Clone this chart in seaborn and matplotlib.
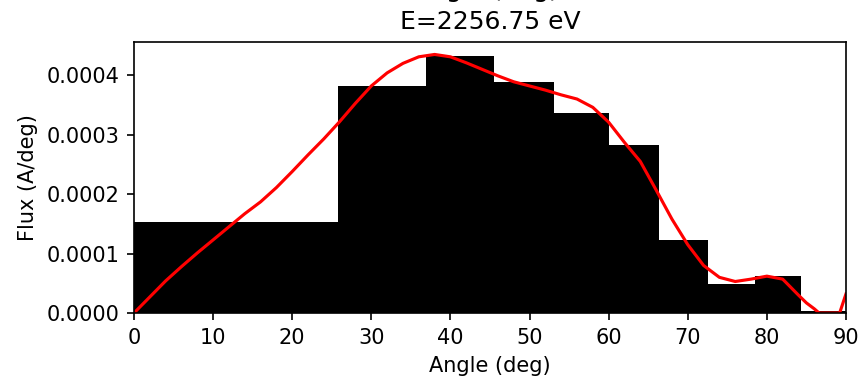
import matplotlib
matplotlib.use("Agg")
import matplotlib.pyplot as plt
import seaborn as sns
import numpy as np

# Bin edges (deg) and binned flux (A/deg)
bin_edges = [0.0, 25.84, 36.87, 45.57, 53.13, 60.00, 66.42, 72.54, 78.46, 84.26, 90.0]
bin_flux = [1.534e-4, 3.815e-4, 4.32e-4, 3.89e-4, 3.37e-4, 2.82e-4, 1.23e-4, 0.48e-4, 0.63e-4, 0.03e-4]

# Smooth fitted curve
curve_angle = [0, 2, 4, 6, 8, 10, 12, 14, 16, 18, 20, 22, 24, 26, 28, 30, 32, 34, 36, 38,
               40, 42, 44, 46, 48, 50, 52, 54, 56, 58, 60, 62, 64, 66, 68, 70, 72, 74, 76,
               78, 80, 82, 84, 85, 86, 86.6, 89.2, 90]
curve_flux = [0.0, 0.27, 0.54, 0.78, 1.01, 1.23, 1.45, 1.67, 1.87, 2.11, 2.38, 2.66, 2.93,
              3.22, 3.53, 3.82, 4.04, 4.20, 4.31, 4.35, 4.31, 4.21, 4.10, 3.99, 3.89, 3.82,
              3.75, 3.67, 3.60, 3.46, 3.21, 2.87, 2.55, 2.07, 1.58, 1.15, 0.80, 0.60, 0.53,
              0.57, 0.62, 0.57, 0.30, 0.17, 0.07, 0.0, 0.0, 0.32]
curve_flux = [v * 1e-4 for v in curve_flux]

title_lines = ["Angle (deg),", "E=2256.75 eV"]

fig = plt.figure(figsize=(865 / 150, 385 / 150), dpi=150)
ax = fig.add_subplot(111)
fig.subplots_adjust(left=0.1549, right=0.978, bottom=0.187, top=0.891)

centers = [(a + b) / 2 for a, b in zip(bin_edges[:-1], bin_edges[1:])]
sns.histplot(x=centers, weights=bin_flux, bins=bin_edges, color="black", alpha=1,
             linewidth=0, ax=ax)
sns.lineplot(x=curve_angle, y=curve_flux, color="red", linewidth=1.5, ax=ax)

ax.set_xlim(0, 90)
ax.set_ylim(0, 0.000456)
ax.set_yticks([0, 0.0001, 0.0002, 0.0003, 0.0004])
ax.set_yticklabels(["0.0000", "0.0001", "0.0002", "0.0003", "0.0004"])
ax.set_xticks(range(0, 91, 10))
ax.set_xlabel("Angle (deg)")
ax.set_ylabel("Flux (A/deg)")
ax.set_title("\n".join(title_lines), linespacing=1.45)

fig.savefig("out.png", dpi=150)
